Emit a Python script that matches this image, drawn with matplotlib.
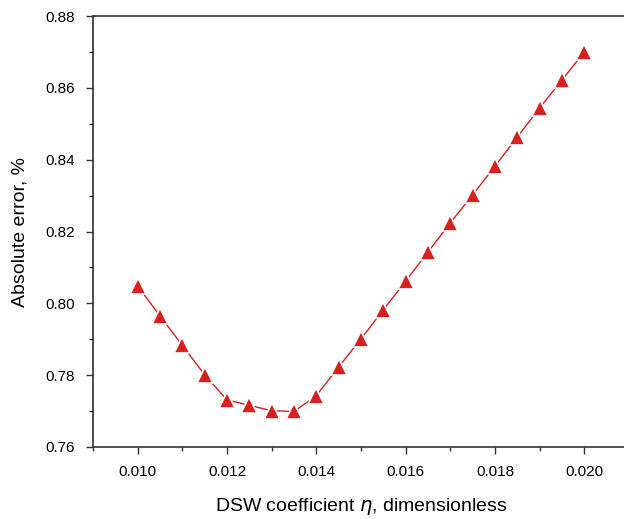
import matplotlib.pyplot as plt
from matplotlib.ticker import MultipleLocator, FormatStrFormatter

# ---------- data ----------
eta = [0.0100, 0.0105, 0.0110, 0.0115, 0.0120, 0.0125, 0.0130, 0.0135,
       0.0140, 0.0145, 0.0150, 0.0155, 0.0160, 0.0165, 0.0170, 0.0175,
       0.0180, 0.0185, 0.0190, 0.0195, 0.0200]
abs_error = [0.8048, 0.7965, 0.7883, 0.7801, 0.7731, 0.7716, 0.7701, 0.7699,
             0.7743, 0.7823, 0.7901, 0.7982, 0.8062, 0.8143, 0.8224, 0.8302,
             0.8382, 0.8463, 0.8544, 0.8622, 0.8700]

plt.rcParams['font.family'] = ['Liberation Sans', 'DejaVu Sans']
red = '#d92020'
spine_col = '#333030'

fig = plt.figure(figsize=(6.24, 5.19), dpi=100)
ax = fig.add_axes([93 / 624, 72 / 519, 536 / 624, 431 / 519])

ax.plot(eta, abs_error, color=red, lw=1.0, zorder=2)
ax.plot(eta, abs_error, ls='none', marker='^', ms=11, color=red,
        markeredgecolor='white', markeredgewidth=1.2, zorder=3)

ax.set_xlim(0.009, 0.021)
ax.set_ylim(0.76, 0.88)
ax.xaxis.set_major_locator(MultipleLocator(0.002))
ax.xaxis.set_minor_locator(MultipleLocator(0.001))
ax.yaxis.set_major_locator(MultipleLocator(0.02))
ax.yaxis.set_minor_locator(MultipleLocator(0.01))
ax.xaxis.set_major_formatter(FormatStrFormatter('%.3f'))
ax.yaxis.set_major_formatter(FormatStrFormatter('%.2f'))

ax.tick_params(which='major', direction='out', length=5, width=1,
               color=spine_col, labelsize=11, pad=8)
ax.tick_params(which='minor', direction='out', length=3, width=1,
               color=spine_col)
for side in ['left', 'bottom', 'top']:
    ax.spines[side].set_color(spine_col)
    ax.spines[side].set_linewidth(1.2)
ax.spines['right'].set_visible(False)

ax.set_xlabel(r'DSW coefficient $\eta$, dimensionless', fontsize=14, labelpad=12)
ax.set_ylabel('Absolute error, %', fontsize=14, labelpad=12)

fig.savefig('out.png', dpi=100)
